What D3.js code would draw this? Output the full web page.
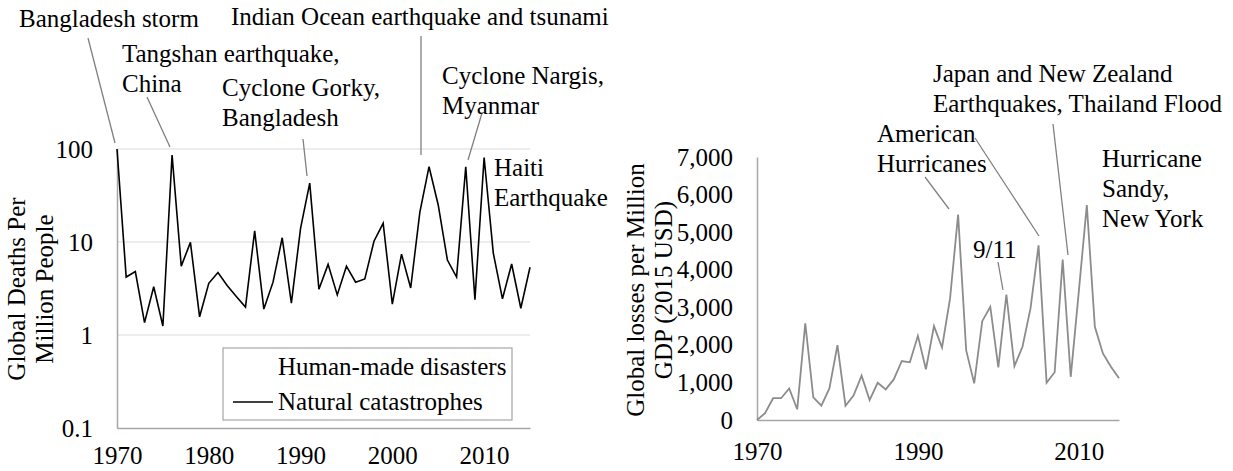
<!DOCTYPE html>
<html>
<head>
<meta charset="utf-8">
<script src="https://cdn.jsdelivr.net/npm/d3@7"></script>
<style>
  body { margin: 0; background: #fff; }
</style>
</head>
<body>
<svg id="chart" width="1233" height="471"></svg>
<script>
// years shared by both panels
const years = [1970, 1971, 1972, 1973, 1974, 1975, 1976, 1977, 1978, 1979,
  1980, 1981, 1982, 1983, 1984, 1985, 1986, 1987, 1988, 1989,
  1990, 1991, 1992, 1993, 1994, 1995, 1996, 1997, 1998, 1999,
  2000, 2001, 2002, 2003, 2004, 2005, 2006, 2007, 2008, 2009,
  2010, 2011, 2012, 2013, 2014, 2015];

// global deaths per million people (natural catastrophes)
const deathsNatural = [100, 4.2, 4.8, 1.36, 3.3, 1.25, 86, 5.5, 9.9, 1.57,
  3.6, 4.7, 3.4, 2.6, 2.0, 13.2, 1.9, 3.7, 11.1, 2.2,
  14, 43, 3.1, 5.75, 2.7, 5.5, 3.7, 4.0, 10.2, 15.9,
  2.15, 7.4, 3.2, 21, 64.5, 25, 6.4, 4.2, 64.5, 2.4,
  81, 7.6, 2.45, 5.8, 1.94, 5.35];

// global losses per million GDP (2015 USD)
const lossesGDP = [0, 180, 580, 580, 840, 285, 2570, 600, 380, 840,
  1995, 380, 650, 1180, 530, 990, 815, 1080, 1570, 1535,
  2240, 1350, 2500, 1930, 3235, 5470, 1860, 975, 2630, 3015,
  1400, 3340, 1435, 1950, 2970, 4650, 990, 1270, 4270, 1150,
  3410, 5720, 2480, 1770, 1420, 1110];

const leftYTicks = [0.1, 1, 10, 100];
const leftXTicks = [1970, 1980, 1990, 2000, 2010];
const rightYTicks = [0, 1000, 2000, 3000, 4000, 5000, 6000, 7000];
const rightXTicks = [1970, 1990, 2010];
const legendLabels = ['Human-made disasters', 'Natural catastrophes'];

// annotation texts with leader lines (pixel layout)
const leftNotes = [
  { lines: ['Bangladesh storm'], x: 19, y: 27, leader: [[88, 38], [115, 143]] },
  { lines: ['Tangshan earthquake,', 'China'], x: 122, y: 62, leader: [[147, 97], [170, 147]] },
  { lines: ['Cyclone Gorky,', 'Bangladesh'], x: 222, y: 96, leader: [[303, 139], [307, 176]] },
  { lines: ['Indian Ocean earthquake and tsunami'], x: 231, y: 25, leader: [[421, 36], [421, 155]] },
  { lines: ['Cyclone Nargis,', 'Myanmar'], x: 442, y: 84, leader: [[482, 113], [468, 160]] },
  { lines: ['Haiti', 'Earthquake'], x: 494, y: 176, leader: null }
];
const rightNotes = [
  { lines: ['American', 'Hurricanes'], x: 877, y: 142, leader: [[925, 177], [949, 209]] },
  { lines: [], x: 0, y: 0, leader: [[975, 138], [1039, 236]] },
  { lines: ['Japan and New Zealand', 'Earthquakes, Thailand Flood'], x: 933, y: 82, leader: [[1053, 124], [1068, 255]] },
  { lines: ['9/11'], x: 973, y: 258, leader: [[998, 262], [1003, 290]] },
  { lines: ['Hurricane', 'Sandy,', 'New York'], x: 1102, y: 167, leader: null }
];

const svg = d3.select('#chart');
const fs = 25;
const serif = '"Liberation Serif", "Times New Roman", Times, serif';
const axisColor = '#a6a6a6';
const leaderColor = '#808080';

function txt(sel) {
  return sel.style('font-family', serif).style('font-size', fs + 'px').style('fill', '#000');
}

function drawNotes(notes) {
  notes.forEach(n => {
    if (n.leader) {
      svg.append('line')
        .attr('x1', n.leader[0][0]).attr('y1', n.leader[0][1])
        .attr('x2', n.leader[1][0]).attr('y2', n.leader[1][1])
        .attr('stroke', leaderColor).attr('stroke-width', 1.3);
    }
    const t = txt(svg.append('text').attr('x', n.x).attr('y', n.y));
    n.lines.forEach((l, i) => {
      t.append('tspan').attr('x', n.x).attr('dy', i === 0 ? 0 : 30).text(l);
    });
  });
}

// ---------- left panel: deaths (log scale) ----------
const xL = d3.scaleLinear().domain([1970, 2015]).range([117, 530]);
const yL = d3.scaleLog().domain([0.1, 100]).range([428, 149]);

svg.append('g').selectAll('line')
  .data(leftYTicks.filter(d => d > 0.1))
  .enter().append('line')
  .attr('x1', xL(1970)).attr('x2', xL(2015))
  .attr('y1', d => yL(d)).attr('y2', d => yL(d))
  .attr('stroke', '#d9d9d9').attr('stroke-width', 1.2);

const gLy = svg.append('g')
  .attr('transform', 'translate(' + xL(1970) + ',0)')
  .call(d3.axisLeft(yL).tickValues(leftYTicks).tickFormat(d => String(d)).tickSize(0).tickPadding(24));
gLy.select('.domain').attr('stroke', axisColor).attr('stroke-width', 1.5);
txt(gLy.selectAll('text'));

const gLx = svg.append('g')
  .attr('transform', 'translate(0,' + yL(0.1) + ')')
  .call(d3.axisBottom(xL).tickValues(leftXTicks).tickFormat(d3.format('d')).tickSize(0));
gLx.select('.domain').attr('stroke', axisColor).attr('stroke-width', 1.5);
txt(gLx.selectAll('text').attr('dy', null).attr('y', 36));

svg.append('path')
  .datum(years.map((yr, i) => [yr, deathsNatural[i]]))
  .attr('fill', 'none')
  .attr('stroke', '#000')
  .attr('stroke-width', 1.6)
  .attr('d', d3.line().x(d => xL(d[0])).y(d => yL(d[1])));

// legend
svg.append('rect')
  .attr('x', 223).attr('y', 348).attr('width', 289).attr('height', 72)
  .attr('fill', '#fff').attr('stroke', axisColor).attr('stroke-width', 1.2);
svg.append('line')
  .attr('x1', 233).attr('x2', 273).attr('y1', 402).attr('y2', 402)
  .attr('stroke', '#000').attr('stroke-width', 1.6);
txt(svg.selectAll('.legtext')
  .data(legendLabels)
  .enter().append('text')
  .attr('class', 'legtext')
  .attr('x', 278)
  .attr('y', (d, i) => 375 + i * 35)
  .text(d => d));

// y title
txt(svg.append('text')
  .attr('transform', 'translate(25,289) rotate(-90)')
  .attr('text-anchor', 'middle')
  .text('Global Deaths Per'));
txt(svg.append('text')
  .attr('transform', 'translate(53,289) rotate(-90)')
  .attr('text-anchor', 'middle')
  .text('Million People'));

drawNotes(leftNotes);

// ---------- right panel: losses ----------
const xR = d3.scaleLinear().domain([1970, 2015]).range([757, 1119]);
const yR = d3.scaleLinear().domain([0, 7000]).range([420, 157]);

const gRy = svg.append('g')
  .attr('transform', 'translate(' + xR(1970) + ',0)')
  .call(d3.axisLeft(yR).tickValues(rightYTicks).tickFormat(d3.format(',')).tickSize(0).tickPadding(24));
gRy.select('.domain').attr('stroke', axisColor).attr('stroke-width', 1.5);
txt(gRy.selectAll('text'));

const gRx = svg.append('g')
  .attr('transform', 'translate(0,' + yR(0) + ')')
  .call(d3.axisBottom(xR).tickValues(rightXTicks).tickFormat(d3.format('d')).tickSize(0));
gRx.select('.domain').attr('stroke', axisColor).attr('stroke-width', 1.5);
txt(gRx.selectAll('text').attr('dy', null).attr('y', 40));

svg.append('path')
  .datum(years.map((yr, i) => [yr, lossesGDP[i]]))
  .attr('fill', 'none')
  .attr('stroke', '#8c8c8c')
  .attr('stroke-width', 1.8)
  .attr('d', d3.line().x(d => xR(d[0])).y(d => yR(d[1])));

txt(svg.append('text')
  .attr('transform', 'translate(644,290) rotate(-90)')
  .attr('text-anchor', 'middle')
  .text('Global losses per Million'));
txt(svg.append('text')
  .attr('transform', 'translate(672,290) rotate(-90)')
  .attr('text-anchor', 'middle')
  .text('GDP (2015 USD)'));

drawNotes(rightNotes);
</script>
</body>
</html>
